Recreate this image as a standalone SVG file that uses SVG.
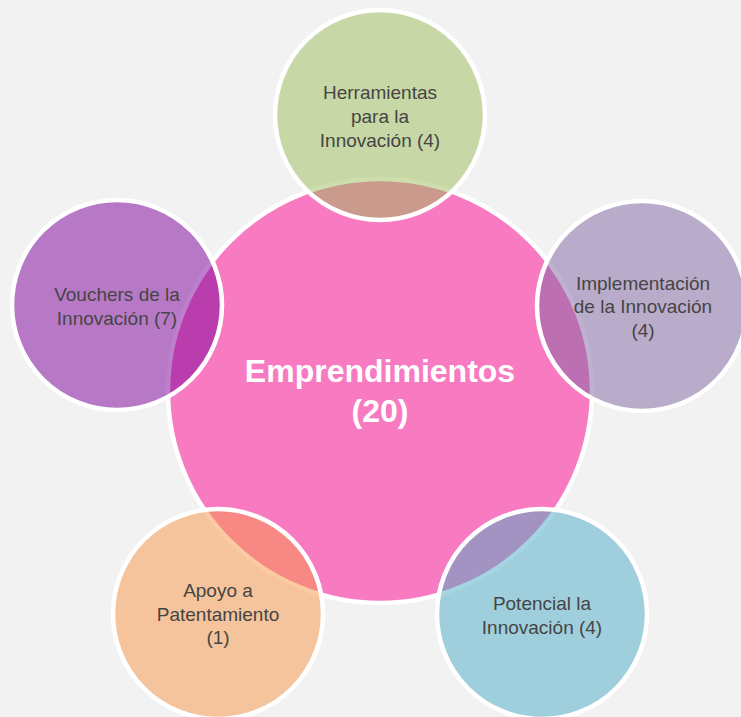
<svg xmlns="http://www.w3.org/2000/svg" width="741" height="717" viewBox="0 0 741 717">
<style>
.c{stroke:#ffffff;stroke-width:4.5}
.o{fill-opacity:0.5}
.t{font-family:"Liberation Sans",Arial,sans-serif;font-size:19px;fill:#454545;text-anchor:middle}
.ct{font-family:"Liberation Sans",Arial,sans-serif;font-size:32px;font-weight:bold;fill:#ffffff;text-anchor:middle}
</style>
<rect x="0" y="0" width="741" height="717" fill="#f2f2f2"/>
<g id="center">
<circle class="c" cx="380" cy="391" r="212" fill="#f87ac1"/>
<text class="ct" x="380" y="382">Emprendimientos</text>
<text class="ct" x="380" y="422">(20)</text>
</g>
<g id="herramientas">
<circle class="c o" cx="380" cy="115" r="105" fill="#9bbb59"/>
<text class="t" x="380" y="99">Herramientas</text>
<text class="t" x="380" y="123">para la</text>
<text class="t" x="380" y="147">Innovación (4)</text>
</g>
<g id="implementacion">
<circle class="c o" cx="642" cy="306" r="105" fill="#8064a2"/>
<text class="t" x="643" y="290">Implementación</text>
<text class="t" x="643" y="313">de la Innovación</text>
<text class="t" x="643" y="337">(4)</text>
</g>
<g id="potencial">
<circle class="c o" cx="542" cy="614" r="105" fill="#4bacc6"/>
<text class="t" x="542" y="610">Potencial la</text>
<text class="t" x="542" y="634">Innovación (4)</text>
</g>
<g id="apoyo">
<circle class="c o" cx="218" cy="614" r="105" fill="#f79646"/>
<text class="t" x="218" y="597">Apoyo a</text>
<text class="t" x="218" y="621">Patentamiento</text>
<text class="t" x="218" y="644">(1)</text>
</g>
<g id="vouchers">
<circle class="c o" cx="117" cy="305" r="105" fill="#7c009a"/>
<text class="t" x="117" y="301">Vouchers de la</text>
<text class="t" x="117" y="325">Innovación (7)</text>
</g>
</svg>
